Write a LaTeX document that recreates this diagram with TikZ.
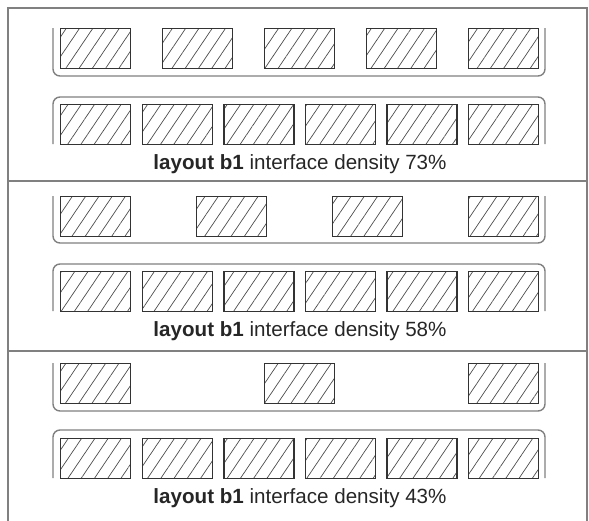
\documentclass[tikz,border=0pt]{standalone}
\usepackage{fontspec}
\setmainfont{Liberation Sans}
\usetikzlibrary{patterns.meta}
\begin{document}
\begin{tikzpicture}[x=1pt,y=-1pt,
  cell/.style={draw=black!80, line width=1.3pt, minimum width=70pt, minimum height=40pt,
    inner sep=0pt, anchor=north west,
    pattern={Lines[angle=56,distance=11pt,line width=0.7pt]}, pattern color=black!70},
  rail/.style={draw=black!50, line width=1.4pt, rounded corners=7pt},
  frame/.style={draw=black!50, line width=1.4pt},
  caption/.style={font=\fontsize{20.6}{24}\selectfont, text=black!85, anchor=base, inner sep=0pt}]
\useasboundingbox (0,0) rectangle (589,520);
\draw[frame] (8,530) -- (8,8) -- (587,8) -- (587,530);
\draw[frame] (8,181) -- (587,181);
\draw[frame] (8,351) -- (587,351);
% section 1
\foreach \x [count=\i] in {60,162,264,366,468} \node[cell] (a\i) at (\x,28) {};
\foreach \x [count=\i] in {60,141.6,223.2,304.8,386.4,468} \node[cell] (b\i) at (\x,104) {};
\draw[rail] (53,28) -- (53,76) -- (545,76) -- (545,28);
\draw[rail] (53,144) -- (53,97) -- (545,97) -- (545,144);
\node[caption] (t1) at (300,169) {\textbf{layout b1} interface density 73\%};
% section 2
\foreach \x [count=\i] in {60,196,332,468} \node[cell] (c\i) at (\x,196) {};
\foreach \x [count=\i] in {60,141.6,223.2,304.8,386.4,468} \node[cell] (d\i) at (\x,271) {};
\draw[rail] (53,196) -- (53,243) -- (545,243) -- (545,196);
\draw[rail] (53,311) -- (53,264) -- (545,264) -- (545,311);
\node[caption] (t2) at (300,336) {\textbf{layout b1} interface density 58\%};
% section 3
\foreach \x [count=\i] in {60,264,468} \node[cell] (e\i) at (\x,363) {};
\foreach \x [count=\i] in {60,141.6,223.2,304.8,386.4,468} \node[cell] (f\i) at (\x,438) {};
\draw[rail] (53,363) -- (53,411) -- (545,411) -- (545,363);
\draw[rail] (53,478) -- (53,430) -- (545,430) -- (545,478);
\node[caption] (t3) at (300,503) {\textbf{layout b1} interface density 43\%};
\end{tikzpicture}
\end{document}
